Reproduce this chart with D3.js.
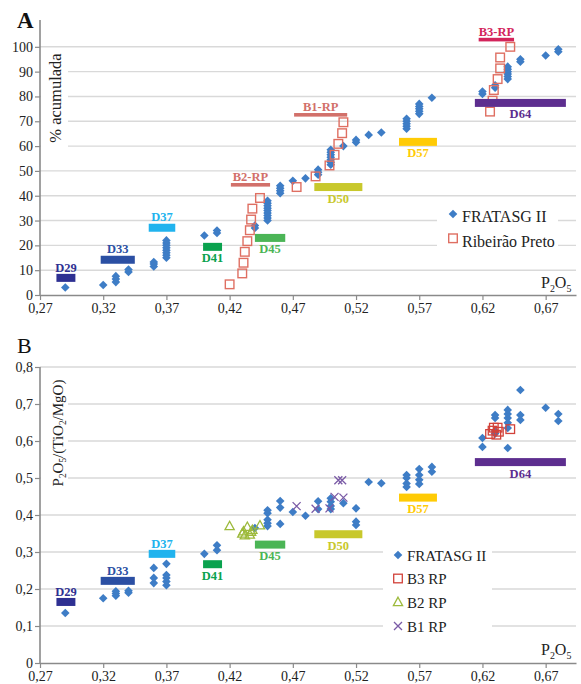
<!DOCTYPE html>
<html>
<head>
<meta charset="utf-8">
<script src="https://cdn.jsdelivr.net/npm/d3@7"></script>
<style>
  body { margin: 0; background: #fff; }
  svg { display: block; }
  text { font-family: "Liberation Serif", "Times New Roman", serif; }
</style>
</head>
<body>
<svg id="chart" width="581" height="684"></svg>
<script>
// ---- data ---------------------------------------------------------------
const xTicks  = [0.27, 0.32, 0.37, 0.42, 0.47, 0.52, 0.57, 0.62, 0.67];
const yTicksA = [0, 10, 20, 30, 40, 50, 60, 70, 80, 90, 100];
const yTicksB = [0, 0.1, 0.2, 0.3, 0.4, 0.5, 0.6, 0.7, 0.8];

// FRATASG II, cumulative % per P2O5 content
const fratasgA = [
  [0.29, [3]], [0.32, [4]], [0.33, [5.2, 6.4, 7.6]], [0.34, [9.3, 10.3]],
  [0.36, [11.5, 12.5, 13.3]], [0.37, [15, 16, 17, 18, 19, 20, 21, 22]],
  [0.40, [24]], [0.41, [25, 26]], [0.44, [27, 28]],
  [0.45, [30, 31, 32, 33, 34, 35, 36, 37, 38]], [0.46, [41, 42, 43, 44]],
  [0.47, [46]], [0.48, [47]], [0.49, [48.5, 49.5, 50.5]],
  [0.50, [52.5, 53.5, 54.5, 55.5, 56.5, 57.5, 58.5]], [0.51, [60]],
  [0.52, [61.5, 62.5]], [0.53, [64.5]], [0.54, [65.5]],
  [0.56, [67, 68, 69, 70, 71]], [0.57, [73, 74, 75, 76, 77]], [0.58, [79.5]],
  [0.62, [81, 82]], [0.63, [83.5, 84.5]], [0.64, [87, 88, 89, 90, 91, 92]],
  [0.65, [94, 95]], [0.67, [96.5]], [0.68, [98, 99]]
];

// Ribeirão Preto samples: P2O5 and cumulative %
const ribeiraoP2O5 = [0.420, 0.430, 0.431, 0.432, 0.434, 0.436, 0.437, 0.438, 0.444,
                      0.473, 0.488, 0.499, 0.503, 0.506, 0.509, 0.510,
                      0.626, 0.628, 0.629, 0.632, 0.634, 0.634, 0.642];
const ribeiraoCum  = [4.3, 8.7, 13.0, 17.4, 21.7, 26.1, 30.4, 34.8, 39.1,
                      43.5, 47.8, 52.2, 56.5, 60.9, 65.2, 69.6,
                      73.9, 78.3, 82.6, 87.0, 91.3, 95.7, 100];

// FRATASG II, P2O5/(TiO2/MgO) per P2O5 content
const fratasgB = [
  [0.29, [0.135]], [0.32, [0.175]], [0.33, [0.182, 0.188, 0.194]], [0.34, [0.19, 0.195]],
  [0.36, [0.216, 0.23, 0.257]], [0.37, [0.21, 0.22, 0.23, 0.238, 0.268]],
  [0.40, [0.295]], [0.41, [0.305, 0.318]], [0.44, [0.365]],
  [0.45, [0.37, 0.378, 0.387, 0.405, 0.413]], [0.46, [0.376, 0.42, 0.438]],
  [0.47, [0.408]], [0.48, [0.398]], [0.49, [0.416, 0.437]],
  [0.50, [0.416, 0.424, 0.436, 0.445]], [0.51, [0.432]],
  [0.52, [0.373, 0.382, 0.418]], [0.53, [0.489]], [0.54, [0.486]],
  [0.56, [0.476, 0.485, 0.5, 0.508]], [0.57, [0.484, 0.495, 0.508, 0.524]],
  [0.58, [0.517, 0.53]], [0.62, [0.584, 0.608]], [0.63, [0.62, 0.627, 0.662, 0.67]],
  [0.64, [0.581, 0.635, 0.649, 0.662, 0.673, 0.684]], [0.65, [0.657, 0.67, 0.738]],
  [0.67, [0.69]], [0.68, [0.654, 0.673]]
];

// Ribeirão Preto layers in panel B
const b3P2O5 = [0.626, 0.628, 0.629, 0.632, 0.631, 0.633, 0.642];
const b3Ratio = [0.619, 0.628, 0.636, 0.636, 0.617, 0.625, 0.632];
const b2P2O5 = [0.420, 0.430, 0.431, 0.432, 0.434, 0.436, 0.437, 0.438, 0.444];
const b2Ratio = [0.370, 0.350, 0.356, 0.345, 0.368, 0.347, 0.355, 0.360, 0.372];
const b1P2O5 = [0.473, 0.488, 0.499, 0.503, 0.506, 0.509, 0.510];
const b1Ratio = [0.424, 0.417, 0.418, 0.449, 0.494, 0.494, 0.447];

// P2O5 ranges of the reference levels
const rangeNames = ['D29', 'D33', 'D37', 'D41', 'D45', 'B2-RP', 'D50', 'B1-RP', 'D57', 'B3-RP', 'D64'];
const rangeMin   = [0.283, 0.318, 0.356, 0.399, 0.440, 0.421, 0.487, 0.471, 0.554, 0.617, 0.614];
const rangeMax   = [0.298, 0.345, 0.377, 0.414, 0.464, 0.452, 0.525, 0.513, 0.584, 0.645, 0.686];
const rangeLevelA = [6.9, 14.2, 27.1, 19.4, 23.0, 44.4, 43.5, 72.6, 61.7, 102.9, 77.4];
const rangeNamesB = ['D29', 'D33', 'D37', 'D41', 'D45', 'D50', 'D57', 'D64'];
const rangeLevelB = [0.165, 0.222, 0.295, 0.267, 0.320, 0.348, 0.447, 0.543];

// ---- styling ------------------------------------------------------------
const rangeColor = {
  'D29': '#2e3092', 'D33': '#2b4fa3', 'D37': '#21b3ee', 'D41': '#0aa24e',
  'D45': '#4bb556', 'D50': '#c8c82c', 'D57': '#ffcb05', 'D64': '#5d2e8f',
  'B1-RP': '#d2706a', 'B2-RP': '#d2706a', 'B3-RP': '#d3245b'
};
const labelBelow = new Set(['D41', 'D45', 'D50', 'D57', 'D64']);
const blue = '#3e7dc6';
const gridColor = '#d9d9d9';
const axisColor = '#8a8a8a';

const svg = d3.select('#chart');
const x = d3.scaleLinear().domain([0.27, 0.694]).range([40, 576]);
const fmtX = d3.format('.2f');
const comma = s => s.replace('.', ',');

const diamond = r => `M0,${-r}L${r},0L0,${r}L${-r},0Z`;

function panel(cfg) {
  const g = svg.append('g');
  const y = cfg.y;
  const [yBottom] = y.range();

  // gridlines
  g.append('g').selectAll('line').data(cfg.grid).join('line')
    .attr('x1', 40).attr('x2', 576)
    .attr('y1', d => y(d)).attr('y2', d => y(d))
    .attr('stroke', gridColor).attr('stroke-width', 1.4);

  // white boxes behind the axis title and legend
  g.append('rect').attr('x', 41).attr('y', cfg.titleBox[0]).attr('width', 27)
    .attr('height', cfg.titleBox[1] - cfg.titleBox[0]).attr('fill', '#fff');
  g.append('rect').attr('x', cfg.legendBox[0]).attr('y', cfg.legendBox[1])
    .attr('width', cfg.legendBox[2]).attr('height', cfg.legendBox[3]).attr('fill', '#fff');

  // axes
  const xAxis = g.append('g').attr('transform', `translate(0,${yBottom})`)
    .call(d3.axisBottom(x).tickValues(xTicks).tickSize(5).tickSizeOuter(0)
      .tickFormat(d => comma(fmtX(d))));
  const yAxis = g.append('g').attr('transform', 'translate(40,0)')
    .call(d3.axisLeft(y).tickValues(cfg.ticks).tickSize(5).tickSizeOuter(0)
      .tickFormat(cfg.tickFormat));
  [xAxis, yAxis].forEach(a => {
    a.attr('font-family', null);
    a.select('.domain').attr('stroke', axisColor).attr('stroke-width', 1.6);
    a.selectAll('.tick line').attr('stroke', axisColor).attr('stroke-width', 1.2);
    a.selectAll('.tick text').attr('fill', '#222').attr('font-size', 14);
  });
  xAxis.selectAll('.tick text').attr('dy', '0.72em');
  yAxis.selectAll('.tick text').attr('x', -7);
  yAxis.select('.domain').attr('d', `M0,${yBottom}V${cfg.axisTop}`);

  return g;
}

function subText(sel, parts, size) {
  parts.forEach(p => {
    const t = sel.append('tspan').text(p[0]);
    if (p[1]) t.attr('font-size', size * 0.62).attr('dy', size * 0.22);
    else if (p[2]) t.attr('dy', -size * 0.22);
  });
}

function drawRanges(g, names, levels, y) {
  const data = names.map((n, i) => {
    const k = rangeNames.indexOf(n);
    return { name: n, min: rangeMin[k], max: rangeMax[k], level: levels[i] };
  });
  const h = d => d.name.includes('RP') ? 3.6 : 8;
  g.append('g').selectAll('rect').data(data).join('rect')
    .attr('x', d => x(d.min)).attr('width', d => x(d.max) - x(d.min))
    .attr('y', d => y(d.level) - h(d) / 2).attr('height', h)
    .attr('fill', d => rangeColor[d.name]);
  g.append('g').selectAll('text').data(data).join('text')
    .attr('x', d => (x(d.min) + x(d.max)) / 2)
    .attr('y', d => labelBelow.has(d.name) ? y(d.level) + h(d) / 2 + 11.5 : y(d.level) - h(d) / 2 - 2.3)
    .attr('text-anchor', 'middle').attr('font-size', 12.5).attr('font-weight', 'bold')
    .attr('fill', d => rangeColor[d.name]).text(d => d.name);
}

// ---- panel A --------------------------------------------------------------
const yA = d3.scaleLinear().domain([0, 110]).range([295, 22]);
const gA = panel({
  y: yA, grid: yTicksA.slice(1), ticks: yTicksA, tickFormat: d => d,
  titleBox: [49, 149], legendBox: [437, 200, 121, 55], axisTop: 20
});

const ptsA = fratasgA.flatMap(([p, vs]) => vs.map(v => [p, v]));
gA.append('g').selectAll('path').data(ptsA).join('path')
  .attr('transform', d => `translate(${x(d[0])},${yA(d[1])})`)
  .attr('d', diamond(4.3)).attr('fill', blue);

const rpA = ribeiraoP2O5.map((p, i) => [p, ribeiraoCum[i]]);
gA.append('g').selectAll('rect').data(rpA).join('rect')
  .attr('x', d => x(d[0]) - 4.3).attr('y', d => yA(d[1]) - 4.3)
  .attr('width', 8.6).attr('height', 8.6)
  .attr('fill', 'none').attr('stroke', '#df6f62').attr('stroke-width', 1.4);

drawRanges(gA, rangeNames, rangeLevelA, yA);

// titles
gA.append('text').attr('x', 17).attr('y', 28).attr('font-size', 23)
  .attr('font-weight', 'bold').attr('fill', '#111').text('A');
gA.append('text').attr('transform', 'translate(61,98) rotate(-90)')
  .attr('text-anchor', 'middle').attr('font-size', 16.5).attr('fill', '#222')
  .text('% acumulada');
subText(gA.append('text').attr('x', 541).attr('y', 288).attr('font-size', 16).attr('fill', '#222'),
  [['P'], ['2', true], ['O', false, true], ['5', true]], 16);

// legend A
gA.append('path').attr('transform', 'translate(453,214)').attr('d', diamond(4.3)).attr('fill', blue);
gA.append('rect').attr('x', 448.7).attr('y', 234).attr('width', 8.6).attr('height', 8.6)
  .attr('fill', 'none').attr('stroke', '#df6f62').attr('stroke-width', 1.4);
gA.append('text').attr('x', 462).attr('y', 221.5).attr('font-size', 16).attr('fill', '#222').text('FRATASG II');
gA.append('text').attr('x', 462).attr('y', 246.5).attr('font-size', 16).attr('fill', '#222').text('Ribeirão Preto');

// ---- panel B --------------------------------------------------------------
const yB = d3.scaleLinear().domain([0, 0.8]).range([663, 367]);
const gB = panel({
  y: yB, grid: yTicksB.slice(1), ticks: yTicksB,
  tickFormat: d => d === 0 ? '0' : comma(d3.format('.1f')(d)),
  titleBox: [372, 492], legendBox: [383, 540, 109, 100], axisTop: 367
});

const ptsB = fratasgB.flatMap(([p, vs]) => vs.map(v => [p, v]));
gB.append('g').selectAll('path').data(ptsB).join('path')
  .attr('transform', d => `translate(${x(d[0])},${yB(d[1])})`)
  .attr('d', diamond(4.3)).attr('fill', blue);

const b3 = b3P2O5.map((p, i) => [p, b3Ratio[i]]);
gB.append('g').selectAll('rect').data(b3).join('rect')
  .attr('x', d => x(d[0]) - 4.3).attr('y', d => yB(d[1]) - 4.3)
  .attr('width', 8.6).attr('height', 8.6)
  .attr('fill', 'none').attr('stroke', '#d2423a').attr('stroke-width', 1.3);

const tri = 'M0,-4.8L4.6,3.6L-4.6,3.6Z';
const b2 = b2P2O5.map((p, i) => [p, b2Ratio[i]]);
gB.append('g').selectAll('path').data(b2).join('path')
  .attr('transform', d => `translate(${x(d[0])},${yB(d[1])})`)
  .attr('d', tri).attr('fill', 'none').attr('stroke', '#9dba3c').attr('stroke-width', 1.3);

const cross = 'M-4,-4L4,4M-4,4L4,-4';
const b1 = b1P2O5.map((p, i) => [p, b1Ratio[i]]);
gB.append('g').selectAll('path').data(b1).join('path')
  .attr('transform', d => `translate(${x(d[0])},${yB(d[1])})`)
  .attr('d', cross).attr('fill', 'none').attr('stroke', '#7a5aa6').attr('stroke-width', 1.3);

drawRanges(gB, rangeNamesB, rangeLevelB, yB);

gB.append('text').attr('x', 17).attr('y', 353).attr('font-size', 22)
  .attr('fill', '#111').text('B');
subText(gB.append('text').attr('transform', 'translate(63,433) rotate(-90)')
  .attr('text-anchor', 'middle').attr('font-size', 15).attr('fill', '#222'),
  [['P'], ['2', true], ['O', false, true], ['5', true], ['/(TiO', false, true], ['2', true], ['/MgO)', false, true]], 15);
subText(gB.append('text').attr('x', 541).attr('y', 655).attr('font-size', 16).attr('fill', '#222'),
  [['P'], ['2', true], ['O', false, true], ['5', true]], 16);

// legend B
const legB = [['FRATASG II'], ['B3 RP'], ['B2 RP'], ['B1 RP']];
const legY = [555, 578.5, 602, 626];
gB.append('path').attr('transform', `translate(398,${legY[0]})`).attr('d', diamond(4.3)).attr('fill', blue);
gB.append('rect').attr('x', 393.7).attr('y', legY[1] - 4.3).attr('width', 8.6).attr('height', 8.6)
  .attr('fill', 'none').attr('stroke', '#d2423a').attr('stroke-width', 1.3);
gB.append('path').attr('transform', `translate(398,${legY[2]})`).attr('d', tri)
  .attr('fill', 'none').attr('stroke', '#9dba3c').attr('stroke-width', 1.3);
gB.append('path').attr('transform', `translate(398,${legY[3]})`).attr('d', cross)
  .attr('fill', 'none').attr('stroke', '#7a5aa6').attr('stroke-width', 1.3);
gB.append('g').selectAll('text').data(legB).join('text')
  .attr('x', 407).attr('y', (d, i) => legY[i] + 5.5)
  .attr('font-size', 15).attr('fill', '#222').text(d => d[0]);
</script>
</body>
</html>
